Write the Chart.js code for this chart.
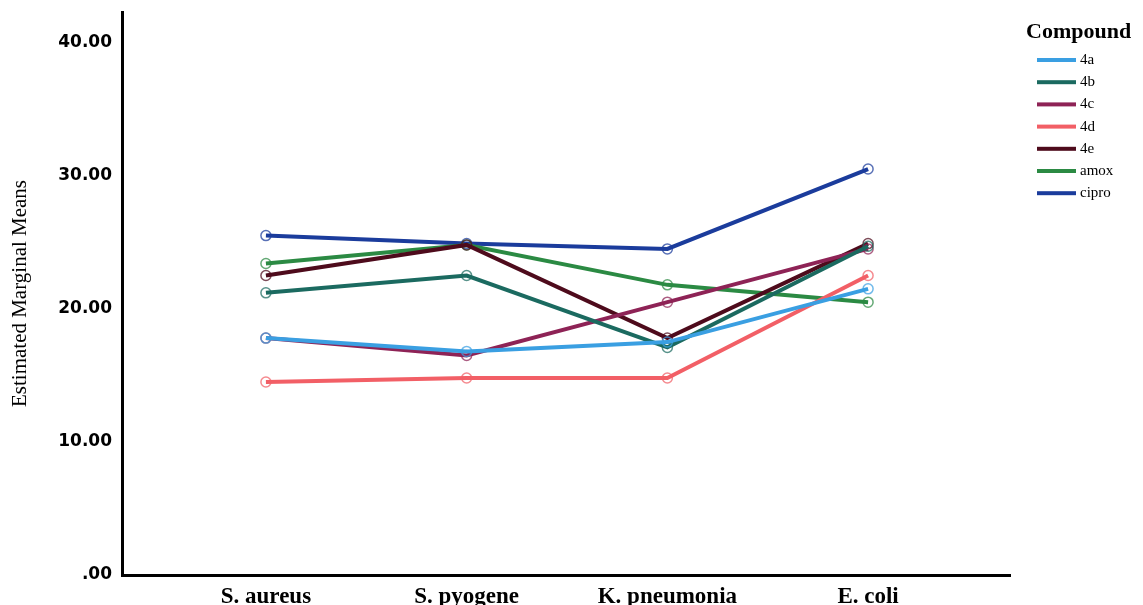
<!DOCTYPE html>
<html>
<head>
<meta charset="utf-8">
<script src="https://cdn.jsdelivr.net/npm/chart.js@4.4.1/dist/chart.umd.min.js"></script>
<style>
  html, body { margin: 0; padding: 0; background: #fff; }
  #wrap { width: 1143px; height: 605px; }
</style>
</head>
<body>
<div id="wrap"><canvas id="myChart" width="1143" height="605"></canvas></div>
<script>
// Bacteria on the x axis
const categories = ['S. aureus', 'S. pyogene', 'K. pneumonia', 'E. coli'];
const yTicks = [0, 10, 20, 30, 40];

// Estimated marginal means per compound
const c4a   = [17.8, 16.8, 17.5, 21.5];
const c4b   = [21.2, 22.5, 17.1, 24.7];
const c4c   = [17.8, 16.5, 20.5, 24.5];
const c4d   = [14.5, 14.8, 14.8, 22.5];
const c4e   = [22.5, 24.8, 17.8, 24.9];
const amox  = [23.4, 24.8, 21.8, 20.5];
const cipro = [25.5, 24.9, 24.5, 30.5];

const seriesNames  = ['4a', '4b', '4c', '4d', '4e', 'amox', 'cipro'];
const seriesValues = [c4a, c4b, c4c, c4d, c4e, amox, cipro];
const seriesColors = ['#3a9fe2', '#1b6a60', '#8e2356', '#f25f66', '#4e0b1c', '#2b8a43', '#1b3c9c'];

const serif = '"Liberation Serif", "Times New Roman", serif';

const datasets = seriesNames.map((name, i) => ({
    label: name,
    data: seriesValues[i].map((v, j) => ({ x: j + 1, y: v })),
    borderColor: seriesColors[i],
    backgroundColor: seriesColors[i],
    borderWidth: 4,
    pointRadius: 5,
    pointBorderWidth: 1.5,
    pointBorderColor: seriesColors[i] + 'bb',
    pointBackgroundColor: 'transparent',
    tension: 0
}));

// legend on the right: title + short thick line per compound
const compoundLegend = {
    id: 'compoundLegend',
    afterDraw(chart) {
        const c = chart.ctx;
        c.save();
        c.fillStyle = '#000';
        c.textBaseline = 'middle';
        c.textAlign = 'left';
        c.font = 'bold 22px ' + serif;
        c.fillText('Compound', 1026, 32);
        c.font = '15px ' + serif;
        chart.data.datasets.forEach((ds, i) => {
            const y = 60 + i * 22.2;
            c.fillStyle = ds.borderColor;
            c.fillRect(1037, y - 2, 39, 4);
            c.fillStyle = '#000';
            c.fillText(ds.label, 1080, y);
        });
        c.restore();
    }
};

const ctx = document.getElementById('myChart').getContext('2d');
const myChart = new Chart(ctx, {
    type: 'line',
    data: { datasets: datasets },
    plugins: [compoundLegend],
    options: {
        responsive: false,
        animation: false,
        layout: { padding: { top: 12, right: 133, bottom: 0, left: 0 } },
        plugins: {
            tooltip: { enabled: false },
            legend: { display: false }
        },
        scales: {
            x: {
                type: 'linear',
                min: 0.283,
                max: 4.707,
                afterBuildTicks: (scale) => {
                    scale.ticks = categories.map((c, i) => ({ value: i + 1 }));
                },
                afterFit: (scale) => { scale.height = 30; },
                grid: { display: false, drawTicks: false },
                border: { display: true, color: '#000', width: 3 },
                ticks: {
                    color: '#000',
                    padding: 8,
                    maxRotation: 0,
                    autoSkip: false,
                    font: { family: serif, size: 23, weight: 'bold' },
                    callback: (v) => categories[v - 1]
                }
            },
            y: {
                min: 0,
                max: 42.3,
                afterBuildTicks: (scale) => {
                    scale.ticks = yTicks.map(v => ({ value: v }));
                },
                afterFit: (scale) => {
                    scale.width = 122;
                    scale.paddingTop = 0;
                },
                grid: { display: false, drawTicks: false },
                border: { display: true, color: '#000', width: 3 },
                title: {
                    display: true,
                    text: 'Estimated Marginal Means',
                    color: '#000',
                    font: { family: serif, size: 21 },
                    padding: { top: 8 }
                },
                ticks: {
                    color: '#000',
                    padding: 10,
                    font: { family: '"DejaVu Sans", sans-serif', size: 17, weight: 'bold' },
                    callback: (v) => v === 0 ? '.00' : v.toFixed(2)
                }
            }
        }
    }
});
</script>
</body>
</html>
